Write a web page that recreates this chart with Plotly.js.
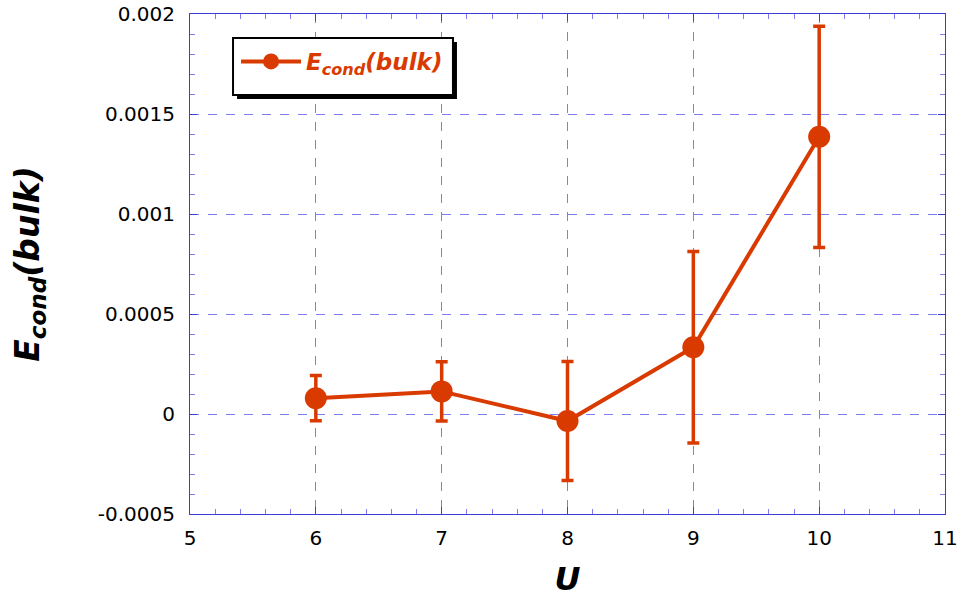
<!DOCTYPE html>
<html>
<head>
<meta charset="utf-8">
<script src="https://cdn.plot.ly/plotly-3.0.1.min.js"></script>
<style>
  body { margin: 0; background: #fff; }
  #myDiv { width: 961px; height: 598px; }
</style>
</head>
<body>
<div id="myDiv"></div>
<script>
// values
var uVals = [6, 7, 8, 9, 10];
var eBulk = [0.000079, 0.000113, -0.000035, 0.000334, 0.001386];
var eErr = [0.000113, 0.000148, 0.000297, 0.000479, 0.000553];

var yTickVals = [-0.0005, 0, 0.0005, 0.001, 0.0015, 0.002];
var yTickText = ['-0.0005', '0', '0.0005', '0.001', '0.0015', '0.002'];
var xRange = [5, 11];

var orange = 'rgb(217,58,0)';
var frameBlue = '#3c3cdc';
var gridBlue = '#7d7deb';
var fontFam = 'DejaVu Sans, sans-serif';

var trace1 = {
  x: uVals,
  y: eBulk,
  type: 'scatter',
  mode: 'lines+markers',
  name: '<b><i>E<sub>cond</sub>(bulk)</i></b>',
  line: {color: orange, width: 4},
  marker: {color: orange, size: 22},
  error_y: {type: 'data', array: eErr, visible: true, color: orange, thickness: 3.5, width: 6}
};

var layout = {
  width: 961,
  height: 598,
  margin: {l: 190, r: 16, t: 14, b: 84},
  paper_bgcolor: '#fff',
  plot_bgcolor: '#fff',
  showlegend: true,
  legend: {
    x: 0.061, y: 0.905, xanchor: 'left', yanchor: 'middle',
    bgcolor: 'rgba(0,0,0,0)', borderwidth: 0,
    font: {family: fontFam, size: 23, color: orange},
    itemwidth: 60
  },
  xaxis: {
    range: xRange,
    tickmode: 'linear',
    tick0: 5,
    dtick: 1,
    showgrid: true,
    gridcolor: gridBlue,
    griddash: 'dash',
    gridwidth: 1,
    zeroline: false,
    showline: true,
    linecolor: frameBlue,
    mirror: 'allticks',
    ticks: 'inside',
    ticklen: 7,
    tickcolor: frameBlue,
    tickfont: {family: fontFam, size: 20, color: '#000'},
    ticklabelstandoff: 6,
    minor: {dtick: 0.2, ticks: 'inside', ticklen: 5, tickcolor: gridBlue, showgrid: false},
    title: {text: '<b><i>U</i></b>', font: {family: fontFam, size: 32, color: '#000'}, standoff: 24}
  },
  yaxis: {
    range: [-0.0005, 0.002],
    tickvals: yTickVals,
    ticktext: yTickText,
    showgrid: true,
    gridcolor: gridBlue,
    griddash: 'dash',
    gridwidth: 1,
    zeroline: false,
    showline: true,
    linecolor: frameBlue,
    mirror: 'allticks',
    ticks: 'inside',
    ticklen: 7,
    tickcolor: frameBlue,
    tickfont: {family: fontFam, size: 20, color: '#000'},
    ticklabelstandoff: 10,
    minor: {dtick: 0.0001, ticks: 'inside', ticklen: 5, tickcolor: gridBlue, showgrid: false},
    title: {text: '<b><i>E<sub>cond</sub>(bulk)</i></b>', font: {family: fontFam, size: 33, color: '#000'}, standoff: 48}
  },
  shapes: [
    // legend drop shadow, then legend box
    {type: 'rect', xref: 'paper', yref: 'paper', x0: 0.0623, x1: 0.3536, y0: 0.830, y1: 0.944,
     fillcolor: '#000', line: {width: 0}, layer: 'above'},
    {type: 'rect', xref: 'paper', yref: 'paper', x0: 0.0570, x1: 0.3483, y0: 0.838, y1: 0.952,
     fillcolor: '#fff', line: {color: '#000', width: 2}, layer: 'above'}
  ]
};

Plotly.newPlot('myDiv', [trace1], layout, {displayModeBar: false});
</script>
</body>
</html>
